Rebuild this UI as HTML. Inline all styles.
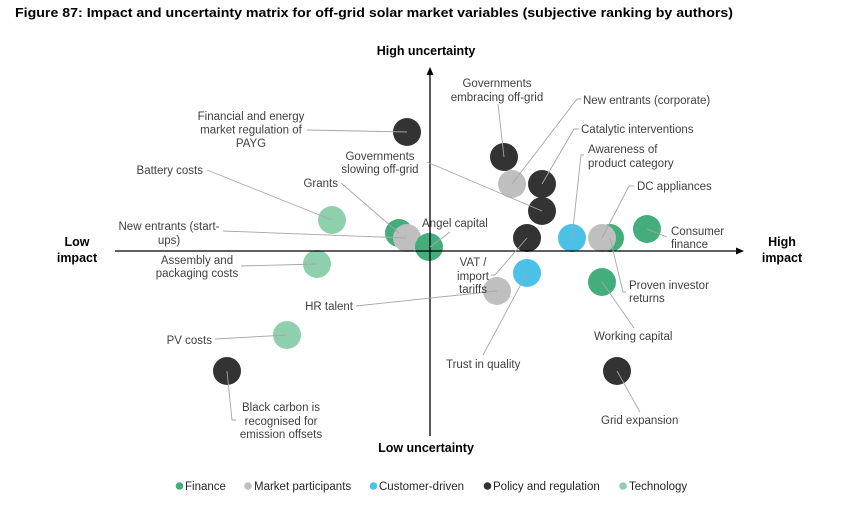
<!DOCTYPE html>
<html><head><meta charset="utf-8"><style>
html,body{margin:0;padding:0;background:#fff;}
svg{display:block;}
text{font-family:"Liberation Sans",Arial,sans-serif;}
.l{font-size:11.5px;fill:#404040;}
.b{font-size:12.5px;font-weight:bold;fill:#000;}
.ld{stroke:#a6a6a6;stroke-width:0.9;fill:none;}
.lg{font-size:11.5px;fill:#262626;}
</style></head><body>
<svg width="848" height="511" viewBox="0 0 848 511" xmlns="http://www.w3.org/2000/svg">
<rect width="848" height="511" fill="#fff"/>
<text x="15" y="17" class="b" textLength="718" lengthAdjust="spacingAndGlyphs">Figure 87: Impact and uncertainty matrix for off-grid solar market variables (subjective ranking by authors)</text>

<!-- circles -->
<g>
<circle cx="407" cy="132" r="14" fill="#333333"/>
<circle cx="332" cy="220" r="14" fill="#8ecfae"/>
<circle cx="399" cy="233" r="14" fill="#43ae7c"/>
<circle cx="407" cy="238" r="14" fill="#bfbfbf"/>
<circle cx="429" cy="247" r="14" fill="#43ae7c"/>
<circle cx="317" cy="264" r="14" fill="#8ecfae"/>
<circle cx="497" cy="291" r="14" fill="#bfbfbf"/>
<circle cx="287" cy="335" r="14" fill="#8ecfae"/>
<circle cx="227" cy="371" r="14" fill="#333333"/>
<circle cx="504" cy="157" r="14" fill="#333333"/>
<circle cx="512" cy="184" r="14" fill="#bfbfbf"/>
<circle cx="542" cy="184" r="14" fill="#333333"/>
<circle cx="542" cy="211" r="14" fill="#333333"/>
<circle cx="527" cy="238" r="14" fill="#333333"/>
<circle cx="527" cy="273" r="14" fill="#4bc1e8"/>
<circle cx="572" cy="238" r="14" fill="#4bc1e8"/>
<circle cx="610" cy="238" r="14" fill="#43ae7c"/>
<circle cx="602" cy="238" r="14" fill="#bfbfbf"/>
<circle cx="647" cy="229" r="14" fill="#43ae7c"/>
<circle cx="602" cy="282" r="14" fill="#43ae7c"/>
<circle cx="617" cy="371" r="14" fill="#333333"/>
</g>

<!-- axes -->
<g stroke="#000" stroke-width="1.3">
<line x1="115" y1="251" x2="738" y2="251"/>
<line x1="430" y1="73" x2="430" y2="436"/>
</g>
<polygon points="744,251 736,247.5 736,254.5" fill="#000"/>
<polygon points="430,67 426.5,75 433.5,75" fill="#000"/>

<!-- leader lines -->
<g class="ld">
<line x1="307" y1="130" x2="407" y2="132"/>
<line x1="427" y1="162" x2="542" y2="211"/>
<line x1="207" y1="170" x2="332" y2="220"/>
<line x1="341" y1="183" x2="399" y2="233"/>
<line x1="223" y1="231" x2="407" y2="238"/>
<line x1="450" y1="232" x2="430" y2="247"/>
<line x1="241" y1="266" x2="317" y2="264"/>
<line x1="356" y1="306" x2="497" y2="291"/>
<line x1="215" y1="339" x2="287" y2="335"/>
<polyline points="227,371 232,420 236,420"/>
<line x1="498" y1="104" x2="504" y2="157"/>
<polyline points="581,99 577,99 512,184"/>
<polyline points="579,129 574,129 542,184"/>
<polyline points="584,155 581,155 572,238"/>
<polyline points="634,186 629,186 602,238"/>
<line x1="647" y1="229" x2="667" y2="237"/>
<polyline points="610,238 623,292 626,292"/>
<polyline points="491,275 495,275 527,238"/>
<line x1="483" y1="355" x2="527" y2="273"/>
<line x1="634" y1="328" x2="602" y2="282"/>
<line x1="640" y1="412" x2="617" y2="371"/>
</g>

<!-- labels -->
<g class="l">
<text x="251" y="120" text-anchor="middle">Financial and energy</text>
<text x="251" y="133.5" text-anchor="middle">market regulation of</text>
<text x="251" y="147" text-anchor="middle">PAYG</text>
<text x="380" y="160" text-anchor="middle">Governments</text>
<text x="380" y="173" text-anchor="middle">slowing off-grid</text>
<text x="203" y="174" text-anchor="end">Battery costs</text>
<text x="338" y="187" text-anchor="end">Grants</text>
<text x="169" y="230" text-anchor="middle">New entrants (start-</text>
<text x="169" y="244" text-anchor="middle">ups)</text>
<text x="422" y="227">Angel capital</text>
<text x="197" y="264" text-anchor="middle">Assembly and</text>
<text x="197" y="277" text-anchor="middle">packaging costs</text>
<text x="353" y="310" text-anchor="end">HR talent</text>
<text x="212" y="344" text-anchor="end">PV costs</text>
<text x="281" y="411" text-anchor="middle">Black carbon is</text>
<text x="281" y="425" text-anchor="middle">recognised for</text>
<text x="281" y="438" text-anchor="middle">emission offsets</text>
<text x="497" y="87" text-anchor="middle">Governments</text>
<text x="497" y="101" text-anchor="middle">embracing off-grid</text>
<text x="583" y="104">New entrants (corporate)</text>
<text x="581" y="133">Catalytic interventions</text>
<text x="588" y="153">Awareness of</text>
<text x="588" y="167">product category</text>
<text x="637" y="190">DC appliances</text>
<text x="671" y="235">Consumer</text>
<text x="671" y="248">finance</text>
<text x="629" y="289">Proven investor</text>
<text x="629" y="302">returns</text>
<text x="473" y="266" text-anchor="middle">VAT /</text>
<text x="473" y="280" text-anchor="middle">import</text>
<text x="473" y="293" text-anchor="middle">tariffs</text>
<text x="446" y="368">Trust in quality</text>
<text x="594" y="340">Working capital</text>
<text x="601" y="424">Grid expansion</text>
</g>

<!-- axis labels -->
<g class="b">
<text x="426" y="55" text-anchor="middle">High uncertainty</text>
<text x="426" y="452" text-anchor="middle">Low uncertainty</text>
<text x="77" y="246" text-anchor="middle">Low</text>
<text x="77" y="262" text-anchor="middle">impact</text>
<text x="782" y="246" text-anchor="middle">High</text>
<text x="782" y="262" text-anchor="middle">impact</text>
</g>

<!-- legend -->
<g>
<circle cx="179.5" cy="486" r="3.8" fill="#43ae7c"/>
<text x="185" y="490" class="lg">Finance</text>
<circle cx="248" cy="486" r="3.8" fill="#bfbfbf"/>
<text x="254" y="490" class="lg">Market participants</text>
<circle cx="373.5" cy="486" r="3.8" fill="#4bc1e8"/>
<text x="379" y="490" class="lg">Customer-driven</text>
<circle cx="487.5" cy="486" r="3.8" fill="#333333"/>
<text x="493" y="490" class="lg">Policy and regulation</text>
<circle cx="623" cy="486" r="3.8" fill="#8ecfae"/>
<text x="629" y="490" class="lg">Technology</text>
</g>
</svg>
</body></html>
